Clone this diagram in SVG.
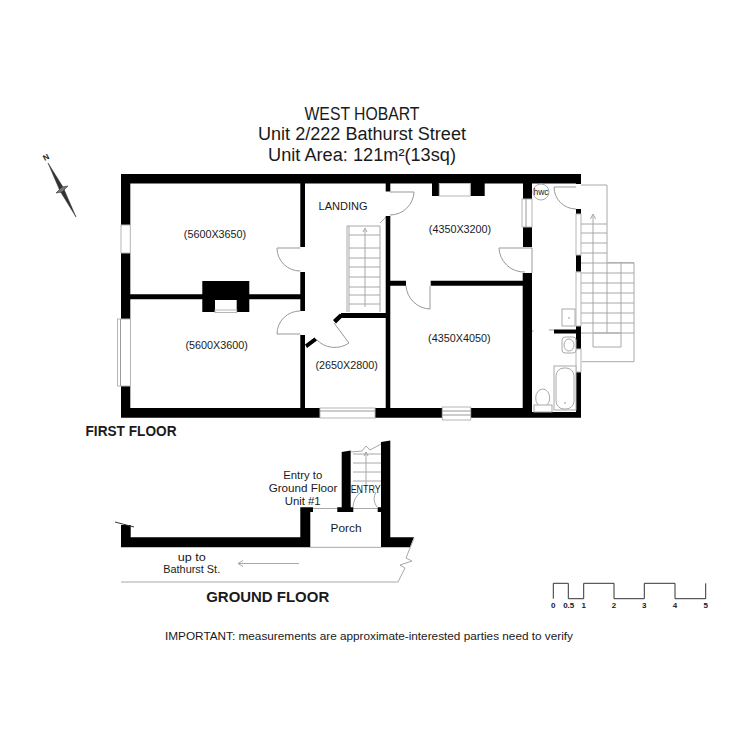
<svg xmlns="http://www.w3.org/2000/svg" width="750" height="750" viewBox="0 0 750 750">
<defs>
<style>
text{font-family:"Liberation Sans",Arial,sans-serif;fill:#1a1a1a;text-anchor:middle}
.w{fill:#000;stroke:none}
.win{fill:#fff;stroke:#b5b5b5;stroke-width:1}
.l{fill:none;stroke:#a8a8a8;stroke-width:1}
.d{fill:none;stroke:#999;stroke-width:1}
.fx{fill:#fff;stroke:#aaa;stroke-width:1}
.room{font-size:10.8px}
.t{font-size:18px}
.b{font-weight:bold}
.sc{font-size:8px;font-weight:bold}
.g{font-size:11px}
</style>
</defs>
<rect width="750" height="750" fill="#fff"/>
<g id="title">
<text class="t" x="362" y="120" textLength="115" lengthAdjust="spacingAndGlyphs">WEST HOBART</text>
<text class="t" x="362" y="140" textLength="208" lengthAdjust="spacingAndGlyphs">Unit 2/222 Bathurst Street</text>
<text class="t" x="362" y="160.500" textLength="188" lengthAdjust="spacingAndGlyphs">Unit Area: 121m²(13sq)</text>
</g>
<g id="compass">
<path d="M48 163L63 187L76 217L60 191Z" fill="#333" stroke="#333" stroke-width=".5"/>
<path d="M56 193L62 187L68 186L62 192Z" fill="#777" stroke="#333" stroke-width=".6"/>
<text x="46" y="160" font-size="8" class="b" transform="rotate(-28 46 157)">N</text>
</g>
<g id="external-stairs">
<path class="l" d="M581 185H607V262.700H634V361.700H582M593 333H621V347H593ZM607 262.700V333M621 262.700V333"/>
<path class="l" d="M581 224H607M581 233H607M581 243H607M581 253H607M581 263H634M581 273H634M581 283H634M581 293H634M581 303H634M581 313H634M581 323H634M581 333H634"/>
<path class="l" d="M593 215V333M590.500 219L593 214L595.500 219"/>
</g>
<g id="internal-stairs">
<path class="l" d="M347 226H380V312M347 226V312M349 226V312M380 223L386 217"/>
<path class="l" d="M349 235H380M349 248H380M349 258H380M349 267H380M349 277H380M349 287H380M349 295H380M349 304H380M365 230V307M363 232L365 228L367 232"/>
</g>
<g id="walls">
<path class="w" d="M121 174H581V183.500H532V199H523V183.500H484.700V196H470.300V183.500H439.300V196H432V183.500H390.300V191.500H385.700V183.500H305V247H300.300V183.500H130.300V225H121ZM121 253H130.300V294.300H202.300V281H249.300V294.300H300.300V272H305V311H300.300V299.300H249.300V312H236.700V300H215V312H202.300V299.300H130.300V319H121ZM121 386H130.300V408H300.300V335H305V408H320V417.700H121ZM375 408H385.700V216H390.300V280.700H406V285.700H390.300V408H442.300V417.700H375ZM430.700 280.700H522.700V273H532V417.700H470.700V408H522.700V285.700H430.700ZM523 227H532V247H523ZM341 313H385.700V318H341ZM532 412H576V372H581V417.700H532ZM576 326H581V349H576V333.500H554V329.500H576ZM576 255H581V271.700H576ZM576 209H581V214H576ZM576 174H581V184H576Z"/>
<path class="w" d="M333 320L340 313.500L343 316.500L336 323.500ZM305 344.500L314.500 337.500L317 340.500L307 348Z"/>
</g>
<g id="windows">
<rect class="win" x="121" y="225" width="9.300" height="28"/>
<rect class="win" x="117.500" y="319" width="13" height="67"/>
<path class="d" d="M120.500 319V386"/>
<rect class="win" x="320" y="408" width="55" height="10"/>
<path class="d" d="M320 411H375"/>
<rect class="win" x="442.300" y="407" width="28.400" height="13"/>
<path class="d" d="M442 411H471M442 415H471"/>
<rect class="win" x="439.300" y="183.500" width="31" height="12.500"/>
<rect class="win" x="522" y="199" width="10" height="28"/>
<path class="d" d="M526 199V227"/>
<rect class="win" x="576" y="214" width="5" height="41"/>
<rect class="win" x="576" y="272" width="5" height="54"/>
<rect class="win" x="576" y="349" width="5" height="23"/>
<rect class="win" x="215" y="310" width="21.700" height="2.500"/>
</g>
<g id="doors">
<path class="d" d="M277 248H300.300M277 248A23 23 0 0 0 300.300 271"/>
<path class="d" d="M277 334H300.300M300.300 311A23 23 0 0 0 277 334"/>
<path class="d" d="M334 323L349 343M349 343A25 25 0 0 1 316 339"/>
<path class="d" d="M390 192H414M414 192A24 24 0 0 1 390 215"/>
<path class="d" d="M499 248H532V273M499 248A25 25 0 0 0 525 272"/>
<path class="d" d="M406 286A25 25 0 0 0 430 309V286"/>
<path class="d" d="M554 187H576M554 187A22 22 0 0 0 576 209"/>
<path class="d" d="M549 330H554M532 331H533.500"/>
</g>
<g id="fixtures">
<circle class="fx" cx="541" cy="192" r="8"/>
<text x="541" y="195" font-size="8.500">hwc</text>
<rect class="fx" x="562" y="309" width="13" height="17"/>
<circle cx="569" cy="318" r="1" fill="#bbb"/>
<rect class="fx" x="562" y="337" width="14" height="16" rx="3"/>
<ellipse class="fx" cx="569" cy="345" rx="5" ry="6"/>
<rect class="fx" x="554" y="366" width="22" height="44"/>
<rect class="fx" x="556" y="368" width="18" height="41" rx="8"/>
<circle cx="565" cy="403" r="1" fill="#bbb"/>
<ellipse class="fx" cx="542.700" cy="398" rx="7" ry="9"/>
<rect class="fx" x="534" y="405" width="18" height="7"/>
</g>
<g id="room-labels">
<text class="room" x="215" y="238">(5600X3650)</text>
<text class="room" x="216.700" y="349">(5600X3600)</text>
<text class="room" x="346.700" y="369">(2650X2800)</text>
<text class="room" x="460" y="233">(4350X3200)</text>
<text class="room" x="459.300" y="341.500">(4350X4050)</text>
<text x="343" y="210" font-size="11" textLength="49" lengthAdjust="spacingAndGlyphs">LANDING</text>
</g>
<text id="first-floor" class="b" x="131" y="436" font-size="14" textLength="91" lengthAdjust="spacingAndGlyphs">FIRST FLOOR</text>
<g id="ground-floor">
<path class="l" d="M353 454H381M353 463H381M353 472H381M353 481H381M366 452V490M364 456L366 452L368 456"/>
<path class="l" d="M351 452L362 451L366 446L370 450L381 444"/>
<path class="l" d="M353 507A20 20 0 0 1 361 492M376 492A14 14 0 0 0 377 507M313 508.500H337M353 508.500H378"/>
<path class="w" d="M121 525H130.700V537.300H300.300V507.300H313V512H310.300V547.300H121ZM341.700 452L350.700 450.500V507.300H353.300V512H337.300V507.300H341.700ZM381 442L390.300 440.500V537.300H414L410 547.300H381V512H377.700V507.300H381Z"/>
<path d="M115 522L134 527" stroke="#333" fill="none"/>
<path class="l" d="M310 547.300H381M121 582H398L405 568L400 565L412 561L406 558L414 538"/>
<path class="l" d="M238 563.500H299M243 560.500L238 563.500L243 566.500"/>
<text class="g" x="302.700" y="478.500" textLength="39" lengthAdjust="spacingAndGlyphs">Entry to</text>
<text class="g" x="303" y="491.500" textLength="68.700" lengthAdjust="spacingAndGlyphs">Ground Floor</text>
<text class="g" x="302.700" y="504.500" textLength="36" lengthAdjust="spacingAndGlyphs">Unit #1</text>
<text x="365.700" y="493" font-size="10" textLength="30" lengthAdjust="spacingAndGlyphs">ENTRY</text>
<text class="g" x="346" y="532" font-size="12" textLength="31" lengthAdjust="spacingAndGlyphs">Porch</text>
<text x="191.700" y="560.500" font-size="11" textLength="28" lengthAdjust="spacingAndGlyphs">up to</text>
<text x="191.700" y="573" font-size="11" textLength="57" lengthAdjust="spacingAndGlyphs">Bathurst St.</text>
<text class="b" x="267.700" y="601.500" font-size="15" textLength="123" lengthAdjust="spacingAndGlyphs">GROUND FLOOR</text>
</g>
<g id="scale">
<path fill="none" stroke="#333" stroke-width="1" d="M553.300 598.700V583.300H568.300V598.700H583.700V583.300H614V598.700H644.300V583.300H675V598.700H705.700V583.300"/>
<text class="sc" x="553.300" y="608">0</text>
<text class="sc" x="568.700" y="608">0.5</text>
<text class="sc" x="583.700" y="608">1</text>
<text class="sc" x="614" y="608">2</text>
<text class="sc" x="644.300" y="608">3</text>
<text class="sc" x="675" y="608">4</text>
<text class="sc" x="705.700" y="608">5</text>
</g>
<text id="note" x="369" y="640" font-size="11" textLength="408" lengthAdjust="spacingAndGlyphs">IMPORTANT: measurements are approximate-interested parties need to verify</text>
</svg>
